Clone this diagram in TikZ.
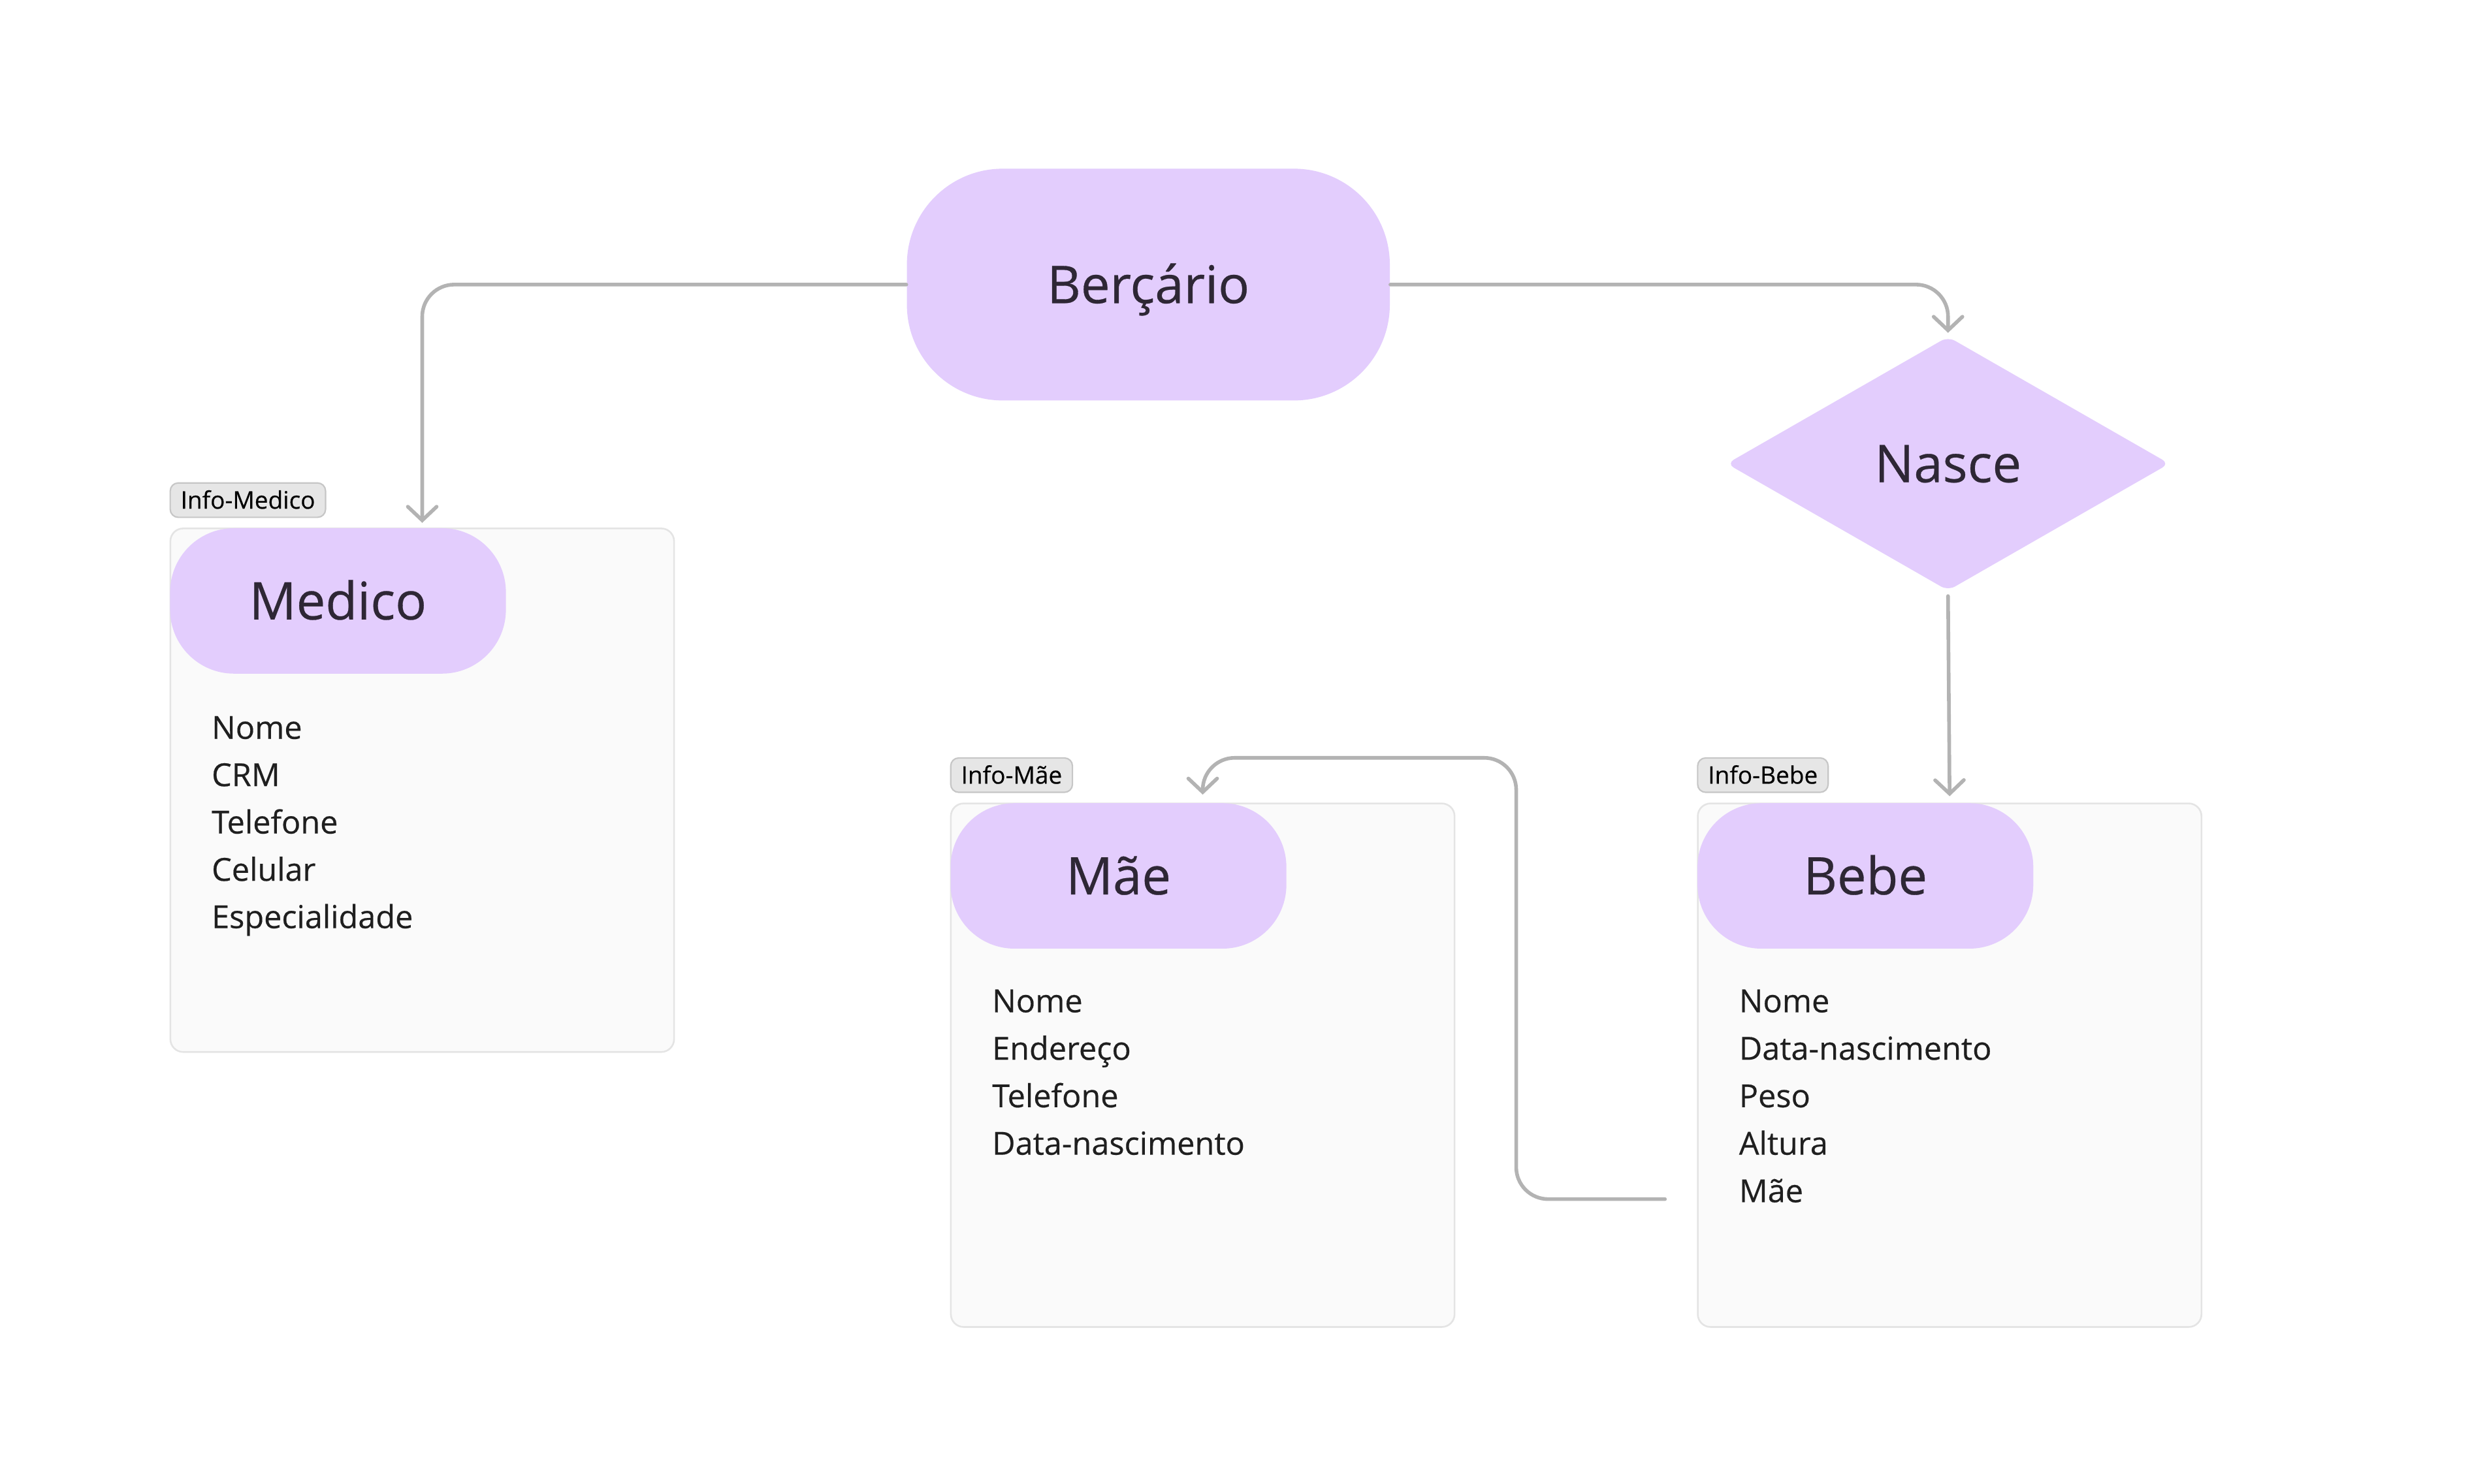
\documentclass[tikz,border=0pt]{standalone}
\usepackage{fontspec}
\setmainfont{Open Sans}[FakeBold=0.4]
\usetikzlibrary{positioning,shapes.geometric,arrows.meta}
\definecolor{lav}{HTML}{E3CDFD}
\definecolor{ink}{HTML}{2E2735}
\definecolor{wire}{HTML}{B3B3B3}
\definecolor{boxfill}{HTML}{FAFAFA}
\definecolor{boxline}{HTML}{E4E4E4}
\definecolor{tagfill}{HTML}{E6E6E6}
\definecolor{tagline}{HTML}{C6C6C6}

\begin{document}
\begin{tikzpicture}
    [x=0.02cm,y=-0.02cm,
    lbl/.style = {text=ink,font=\fontsize{18.5}{22}\selectfont,text height=13.2pt,text depth=0pt,inner sep=0pt},
    hd/.style = {lbl,fill=lav,rounded corners=0.8cm,minimum width=4.2cm,minimum height=1.82cm},
    entity/.style = {draw=boxline,fill=boxfill,line width=0.6pt,rounded corners=0.16cm,minimum width=6.3cm,minimum height=6.55cm,anchor=north west,inner sep=0pt},
    tag/.style = {draw=tagline,fill=tagfill,line width=0.5pt,rounded corners=0.1cm,minimum height=0.43cm,inner xsep=0.13cm,inner ysep=0pt,font=\fontsize{8.6}{10}\selectfont,text height=6.1pt,text depth=0pt},
    attr/.style = {anchor=west,inner sep=0pt,text=black!88,font=\fontsize{11.3}{14}\selectfont,text height=8.1pt,text depth=0pt},
    link/.style = {draw=wire,line width=1.3pt,line cap=round,rounded corners=0.4cm,-{Straight Barb[length=0.17cm,width=0.36cm,line cap=round]}}
    ]
\fill[white] (0,0) rectangle (1555,928);
\useasboundingbox (0,0) rectangle (1555,928);

\node[hd,minimum width=6.04cm,minimum height=2.9cm,rounded corners=1.2cm] (bercario) at (718,178) {Berçário};
\node[lbl,diamond,fill=lav,aspect=1.74,minimum width=5.54cm,minimum height=3.18cm,rounded corners=0.1cm] (nasce) at (1218,290) {Nasce};

% medico
\node[entity] (medico) at (106,330) {};
\node[hd,below right=0cm and 0cm of medico.north west] (medicohd) {Medico};
\node[tag,above right=0.12cm and 0cm of medico.north west] (medicotag) {Info-Medico};
\foreach \a [count=\i] in {Nome,CRM,Telefone,Celular,Especialidade}
    \node[attr] (medico-\i) at (132,{455+29.6*(\i-1)}) {\a};

% mae
\node[entity] (mae) at (594,502) {};
\node[hd,below right=0cm and 0cm of mae.north west] (maehd) {Mãe};
\node[tag,above right=0.12cm and 0cm of mae.north west] (maetag) {Info-Mãe};
\foreach \a [count=\i] in {Nome,Endereço,Telefone,Data-nascimento}
    \node[attr] (mae-\i) at (620,{626+29.7*(\i-1)}) {\a};

% bebe
\node[entity] (bebe) at (1061,502) {};
\node[hd,below right=0cm and 0cm of bebe.north west] (bebehd) {Bebe};
\node[tag,above right=0.12cm and 0cm of bebe.north west] (bebetag) {Info-Bebe};
\foreach \a [count=\i] in {Nome,Data-nascimento,Peso,Altura,Mãe}
    \node[attr] (bebe-\i) at (1087,{626+29.7*(\i-1)}) {\a};

\draw[link] (bercario.west) -| ([yshift=0.06cm]medico.north);
\draw[link] (bercario.east) -| ([yshift=0.04cm]nasce.north);
\draw[link] ([yshift=-0.06cm]nasce.south) -- ([yshift=0.08cm]bebe.north);

\coordinate (maeref) at (1041,750);
\coordinate (maeturn) at (948,474);
\draw[link] (maeref) -| (maeturn) -| ([yshift=0.1cm]mae.north);

\end{tikzpicture}
\end{document}
